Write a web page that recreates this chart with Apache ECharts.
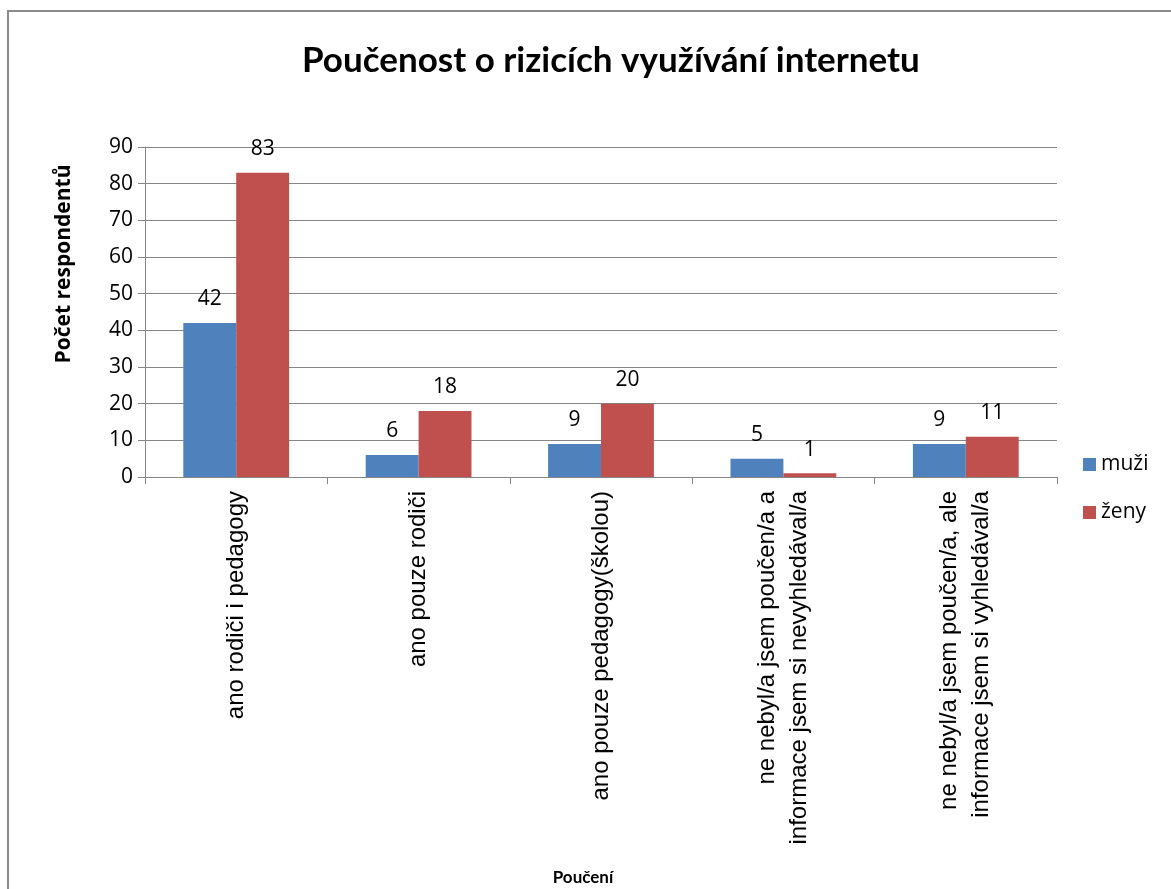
<!DOCTYPE html>
<html>
<head>
<meta charset="utf-8">
<script src="https://cdn.jsdelivr.net/npm/echarts@6/dist/echarts.min.js"></script>
<style>
  html, body { margin: 0; padding: 0; background: #fff; }
  #main { width: 1171px; height: 889px; }
</style>
</head>
<body>
<div id="main"></div>
<script>
// kategorie a hodnoty
const categories = [
  'ano rodiči i pedagogy',
  'ano pouze rodiči',
  'ano pouze pedagogy(školou)',
  'ne nebyl/a jsem poučen/a a\ninformace jsem si nevyhledával/a',
  'ne nebyl/a jsem poučen/a, ale\ninformace jsem si vyhledával/a'
];
const muzi = [42, 6, 9, 5, 9];
const zeny = [83, 18, 20, 1, 11];
const yTicks = { min: 0, max: 90, interval: 10 };

const font = '"Open Sans", "DejaVu Sans", sans-serif';
const narrow = 'Lato, "Open Sans", sans-serif';
const arial = '"Liberation Sans", Arial, sans-serif';
const gridColor = '#868686';

let myChart = echarts.init(document.getElementById('main'));

myChart.setOption({
  animation: false,
  textStyle: { fontFamily: font },
  title: {
    text: 'Poučenost o rizicích využívání internetu',
    left: 297,
    top: 38,
    textStyle: { fontSize: 35, fontWeight: 'bold', color: '#000', fontFamily: narrow }
  },
  graphic: [{
    type: 'rect',
    shape: { x: 8, y: 11, width: 1200, height: 900 },
    style: { fill: null, stroke: '#8c8c8c', lineWidth: 2 },
    silent: true
  }],
  legend: {
    orient: 'vertical',
    left: 1078,
    top: 449,
    itemWidth: 13,
    itemHeight: 13,
    itemGap: 27,
    icon: 'rect',
    textStyle: { fontSize: 21, color: '#000', fontFamily: font },
    data: ['muži', 'ženy']
  },
  grid: { left: 145, right: 114, top: 147, bottom: 412, containLabel: false },
  xAxis: {
    type: 'category',
    data: categories,
    name: 'Poučení',
    nameLocation: 'middle',
    nameGap: 392,
    nameTextStyle: { fontSize: 17, fontWeight: 'bold', color: '#000', fontFamily: narrow, padding: [0, 36, 0, 0] },
    axisLine: { lineStyle: { color: gridColor } },
    axisTick: { show: true, length: 7, lineStyle: { color: gridColor } },
    axisLabel: { rotate: 90, fontSize: 24, color: '#000', margin: 14, lineHeight: 32, fontFamily: arial }
  },
  yAxis: {
    type: 'value',
    min: yTicks.min,
    max: yTicks.max,
    interval: yTicks.interval,
    name: 'Počet respondentů',
    nameLocation: 'middle',
    nameGap: 70,
    nameRotate: 90,
    nameTextStyle: { fontSize: 21, fontWeight: 'bold', color: '#000', fontFamily: font, padding: [0, 0, 0, 96] },
    axisLine: { show: true, lineStyle: { color: gridColor } },
    axisTick: { show: true, length: 7, lineStyle: { color: gridColor } },
    axisLabel: { fontSize: 21, color: '#000', margin: 12, fontFamily: font },
    splitLine: { lineStyle: { color: gridColor, width: 1 } }
  },
  series: [
    {
      name: 'muži',
      type: 'bar',
      data: muzi,
      barGap: '0%',
      barCategoryGap: '42%',
      itemStyle: { color: '#4F81BD' },
      label: { show: true, position: 'top', distance: 13, fontSize: 21, color: '#000', fontFamily: font }
    },
    {
      name: 'ženy',
      type: 'bar',
      data: zeny,
      barGap: '0%',
      barCategoryGap: '42%',
      itemStyle: { color: '#C0504D' },
      label: { show: true, position: 'top', distance: 13, fontSize: 21, color: '#000', fontFamily: font }
    }
  ]
});
</script>
</body>
</html>
